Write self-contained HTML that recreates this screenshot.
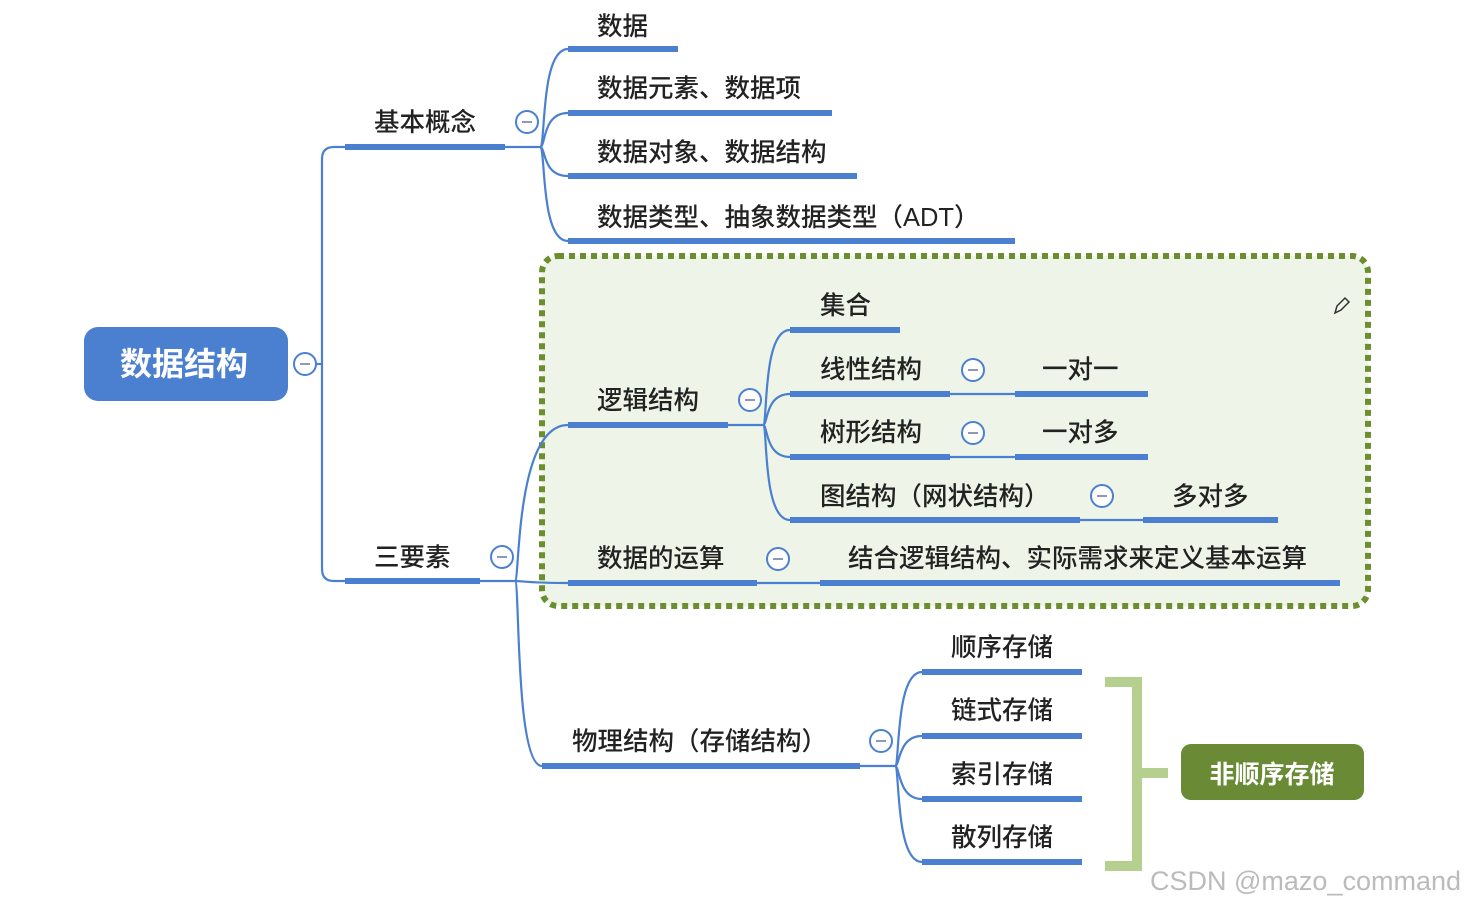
<!DOCTYPE html>
<html><head><meta charset="utf-8"><style>
html,body{margin:0;padding:0;background:#fff;}
svg{display:block}
text{font-family:"Liberation Sans","Noto Sans CJK SC",sans-serif;fill:#222;font-size:25.5px;font-weight:500;}
</style></head><body>
<svg width="1468" height="906" viewBox="0 0 1468 906" xmlns="http://www.w3.org/2000/svg">
<rect x="542" y="256" width="826" height="350" rx="16" fill="#eff4e8" stroke="#6b8e2e" stroke-width="6" stroke-dasharray="6 5"/>
<g fill="none" stroke="#4a80cf" stroke-width="2.2">
<path d="M316 364 H322"/>
<path d="M345 147 H334 Q322 147 322 159 V569 Q322 581 334 581 H345"/>
<path d="M505 147 H540"/>
<path d="M540 147 C546 147 540 49 568 49"/>
<path d="M540 147 C546 147 542 113 568 113"/>
<path d="M540 147 C546 147 542 176 568 176"/>
<path d="M540 147 C546 147 540 241 568 241"/>
<path d="M480 581 H515"/>
<path d="M515 581 C520 581 515 425 568 425"/>
<path d="M515 581 C522 581 530 583 568 583"/>
<path d="M515 581 C520 581 515 766 542 766"/>
<path d="M728 425 H763"/>
<path d="M763 425 C768 425 762 330 790 330"/>
<path d="M763 425 C768 425 765 394 790 394"/>
<path d="M763 425 C768 425 765 457 790 457"/>
<path d="M763 425 C768 425 762 520 790 520"/>
<path d="M950 394 H1015"/><path d="M950 457 H1015"/><path d="M1080 520 H1143"/>
<path d="M757 583 H820"/>
<path d="M860 766 H895"/>
<path d="M895 766 C900 766 895 672 922 672"/>
<path d="M895 766 C900 766 898 736 922 736"/>
<path d="M895 766 C900 766 898 799 922 799"/>
<path d="M895 766 C900 766 895 862 922 862"/>
</g>
<g stroke="#4a80cf" stroke-width="6" fill="none">
<path d="M345 147 H505"/><path d="M345 581 H480"/>
<path d="M568 49 H678"/><path d="M568 113 H832"/><path d="M568 176 H857"/><path d="M568 241 H1015"/>
<path d="M568 425 H728"/><path d="M568 583 H757"/><path d="M542 766 H860"/>
<path d="M790 330 H900"/><path d="M790 394 H950"/><path d="M1015 394 H1148"/>
<path d="M790 457 H950"/><path d="M1015 457 H1148"/>
<path d="M790 520 H1080"/><path d="M1143 520 H1278"/>
<path d="M820 583 H1340"/>
<path d="M922 672 H1082"/><path d="M922 736 H1082"/><path d="M922 799 H1082"/><path d="M922 862 H1082"/>
</g>
<g fill="#fff" stroke="#4a80cf" stroke-width="2">
<circle cx="305" cy="364" r="11"/><circle cx="527" cy="122" r="11"/><circle cx="502" cy="557" r="11"/>
<circle cx="750" cy="400" r="11"/><circle cx="973" cy="370" r="11"/><circle cx="973" cy="433" r="11"/>
<circle cx="1102" cy="496" r="11"/><circle cx="778" cy="559" r="11"/><circle cx="881" cy="741" r="11"/>
</g>
<g stroke="#8a9ab8" stroke-width="2">
<path d="M300 364h10"/><path d="M522 122h10"/><path d="M497 557h10"/><path d="M745 400h10"/><path d="M968 370h10"/><path d="M968 433h10"/><path d="M1097 496h10"/><path d="M773 559h10"/><path d="M876 741h10"/>
</g>
<rect x="84" y="327" width="204" height="74" rx="14" fill="#4a80cf"/>
<text x="184" y="375" text-anchor="middle" style="fill:#fff;font-size:32px;font-weight:bold">数据结构</text>
<text x="374" y="131">基本概念</text>
<text x="374" y="566">三要素</text>
<text x="597" y="35">数据</text>
<text x="597" y="97">数据元素、数据项</text>
<text x="597" y="161">数据对象、数据结构</text>
<text x="597" y="226">数据类型、抽象数据类型（ADT）</text>
<text x="597" y="409">逻辑结构</text>
<text x="820" y="314">集合</text>
<text x="820" y="378">线性结构</text>
<text x="1042" y="378">一对一</text>
<text x="820" y="441">树形结构</text>
<text x="1042" y="441">一对多</text>
<text x="820" y="505">图结构（网状结构）</text>
<text x="1172" y="505">多对多</text>
<text x="597" y="567">数据的运算</text>
<text x="848" y="567">结合逻辑结构、实际需求来定义基本运算</text>
<text x="572" y="750">物理结构（存储结构）</text>
<text x="951" y="656">顺序存储</text>
<text x="951" y="719">链式存储</text>
<text x="951" y="783">索引存储</text>
<text x="951" y="846">散列存储</text>
<path d="M1105 682 H1137 V866 H1105 M1137 773 H1168" fill="none" stroke="#b5cf8e" stroke-width="10"/>
<rect x="1181" y="744" width="183" height="56" rx="10" fill="#6a8a35"/>
<text x="1272" y="783" text-anchor="middle" style="fill:#fff;font-size:25px;font-weight:bold">非顺序存储</text>
<path d="M1335 313 L1337 306 L1345 298 L1349 302 L1341 310 Z" fill="none" stroke="#333" stroke-width="1.5"/>
<text x="1150" y="890" style="fill:#bbb;font-size:27px;font-weight:normal">CSDN @mazo_command</text>
</svg>
</body></html>
